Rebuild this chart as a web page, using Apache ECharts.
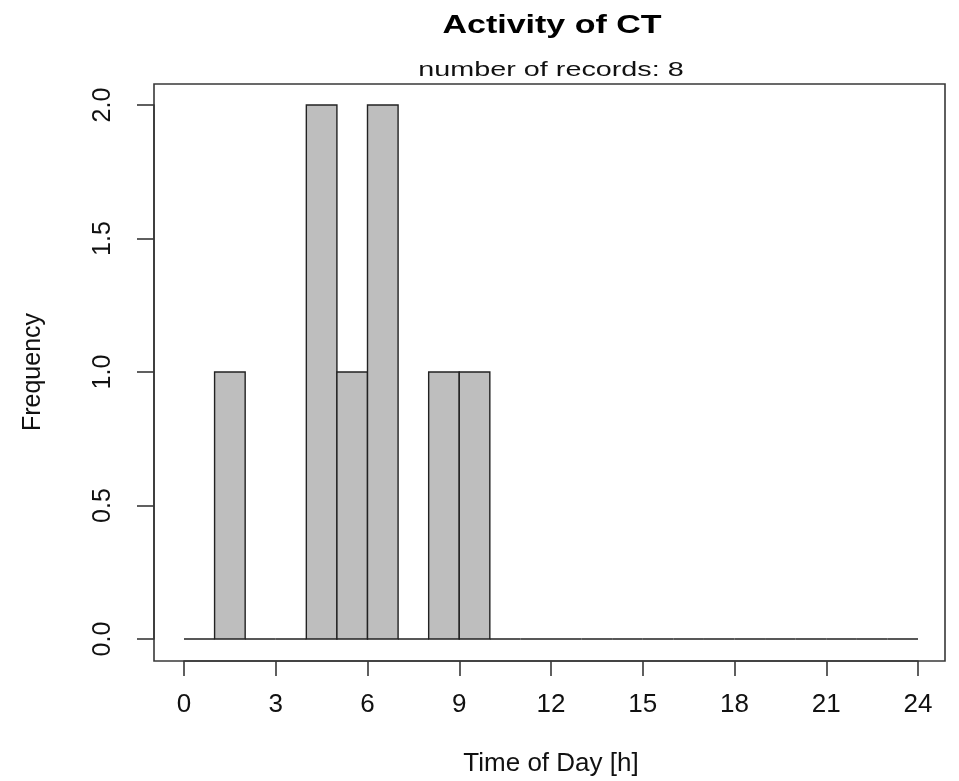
<!DOCTYPE html>
<html>
<head>
<meta charset="utf-8">
<script src="https://cdn.jsdelivr.net/npm/echarts@6/dist/echarts.min.js"></script>
<style>html,body{margin:0;padding:0;background:#fff;}#c{width:959px;height:781px;}</style>
</head>
<body>
<div id="c"></div>
<script>
var binStarts = [0,1,2,3,4,5,6,7,8,9,10,11,12,13,14,15,16,17,18,19,20,21,22,23];
var binEnds   = [1,2,3,4,5,6,7,8,9,10,11,12,13,14,15,16,17,18,19,20,21,22,23,24];
var counts    = [0,1,0,0,2,1,2,0,1,1,0,0,0,0,0,0,0,0,0,0,0,0,0,0];
var xTicks = [0,3,6,9,12,15,18,21,24];
var yTicks = [0,0.5,1,1.5,2];
var titleText = 'Activity of CT';
var subText = 'number of records: 8';
var xName = 'Time of Day [h]';
var yName = 'Frequency';

var FONT = '"Liberation Sans", Arial, sans-serif';
var data = binStarts.map(function(s,i){ return [s, binEnds[i], counts[i]]; });

var chart = echarts.init(document.getElementById('c'), null, {renderer:'canvas'});
chart.setOption({
  animation: false,
  backgroundColor: '#fff',
  graphic: [
    {type: 'text', x: 552, y: 26, scaleX: 1.36, silent: true,
     style: {text: titleText, font: 'bold 25px ' + FONT, fill: '#000', align: 'center', verticalAlign: 'middle'}},
    {type: 'text', x: 551, y: 70, scaleX: 1.37, silent: true,
     style: {text: subText, font: '21px ' + FONT, fill: '#111', align: 'center', verticalAlign: 'middle'}}
  ],
  grid: [
    {left: 184, right: 41, top: 105, bottom: 142, show: false, containLabel: false, outerBoundsMode: 'none'},
    {left: 154, top: 84, width: 791, height: 577, show: true, borderColor: '#383838', borderWidth: 1.6,
     backgroundColor: 'transparent', containLabel: false, outerBoundsMode: 'none'}
  ],
  xAxis: [
    {gridIndex: 0, type: 'value', min: 0, max: 24, interval: 3, offset: 22,
     name: xName, nameLocation: 'middle', nameGap: 90,
     nameTextStyle: {fontFamily: FONT, fontSize: 26, color: '#111'},
     axisLine: {show: true, onZero: false, lineStyle: {color: '#383838', width: 1.6}},
     axisTick: {show: true, length: 15, lineStyle: {color: '#383838', width: 1.6}},
     axisLabel: {fontFamily: FONT, fontSize: 26, color: '#111', margin: 31,
       formatter: function(v){ return xTicks.indexOf(v) >= 0 ? String(v) : ''; }},
     splitLine: {show: false}},
    {gridIndex: 1, type: 'value', show: false, min: 0, max: 1}
  ],
  yAxis: [
    {gridIndex: 0, type: 'value', min: 0, max: 2, interval: 0.5, offset: 30,
     name: yName, nameLocation: 'middle', nameGap: 108, nameRotate: 90,
     nameTextStyle: {fontFamily: FONT, fontSize: 25, color: '#111'},
     axisLine: {show: true, onZero: false, lineStyle: {color: '#383838', width: 1.6}},
     axisTick: {show: true, length: 17, lineStyle: {color: '#383838', width: 1.6}},
     axisLabel: {fontFamily: FONT, fontSize: 25, color: '#111', margin: 38, rotate: 90,
       formatter: function(v){ return yTicks.indexOf(v) >= 0 ? v.toFixed(1) : ''; }},
     splitLine: {show: false}},
    {gridIndex: 1, type: 'value', show: false, min: 0, max: 1}
  ],
  series: [{
    type: 'custom',
    xAxisIndex: 0, yAxisIndex: 0,
    clip: false,
    data: data,
    encode: {x: [0,1], y: 2},
    renderItem: function(params, api){
      var p0 = api.coord([api.value(0), 0]);
      var p1 = api.coord([api.value(1), api.value(2)]);
      return {type: 'rect',
        shape: {x: p0[0], y: p1[1], width: p1[0]-p0[0], height: p0[1]-p1[1]},
        style: {fill: '#bebebe', stroke: '#222', lineWidth: 1.4}};
    }
  }]
});
</script>
</body>
</html>
